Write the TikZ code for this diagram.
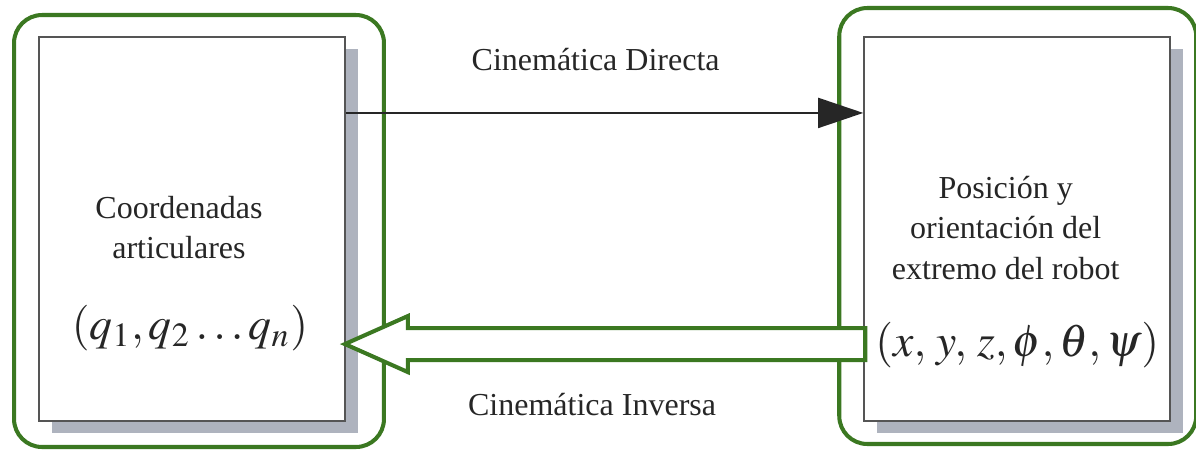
\documentclass[tikz,border=0pt]{standalone}
\usepackage{mathptmx}
\usepackage{fontspec}
\setmainfont{Liberation Serif}
\usetikzlibrary{positioning,calc,shadows,shapes.arrows,arrows.meta}

\definecolor{framegreen}{RGB}{59,120,33}
\definecolor{shadowgray}{RGB}{174,179,190}
\definecolor{boxgray}{RGB}{85,85,85}

\tikzset{
  block/.style={draw=boxgray,line width=0.5pt,fill=white,
    minimum width=3.06cm,minimum height=3.84cm,inner sep=0pt,
    drop shadow={shadow xshift=0.13cm,shadow yshift=-0.12cm,fill=shadowgray,opacity=1}},
  lbl/.style={align=center,font=\fontsize{9.1}{11.4}\selectfont,text=black!85},
  mathlbl/.style={font=\fontsize{13}{15}\selectfont,text=black!85},
  frame/.style={draw=framegreen,line width=1.15pt,rounded corners=0.28cm},
  thinarrow/.style={draw=black!85,line width=0.5pt,-{Triangle[length=0.45cm,width=0.3cm]}},
  fatarrow/.style={single arrow,draw=framegreen,line width=1.15pt,fill=white,
    shape border rotate=180,minimum height=5.2cm,inner sep=0.14cm,
    single arrow head extend=0.12cm,single arrow tip angle=48,anchor=tip}
}

\begin{document}
\begin{tikzpicture}[x=0.01cm,y=-0.01cm]
  \useasboundingbox (0,0) rectangle (1196,451);

  % joint space and task space
  \node[block] (joints) at (192,229) {};
  \node[block,right=5.17cm of joints] (pose) {};

  \node[lbl] (jtext) at ([xshift=-0.13cm,yshift=0.01cm]joints.center) {Coordenadas\\articulares};
  \node[mathlbl] (jmath) at ([xshift=-0.02cm,yshift=-0.99cm]joints.center) {$(q_1,q_2\ldots q_n)$};
  \node[lbl] (ptext) at ([xshift=-0.115cm,yshift=0.01cm]pose.center) {Posición y\\orientación del\\extremo del robot};
  \node[mathlbl] (pmath) at ([yshift=-1.16cm]pose.center) {$(x,\,y,\,z,\phi,\theta,\psi)$};

  % green frames
  \draw[frame] ($(joints.north west)+(-24,-21)$) rectangle ($(joints.south east)+(38,25)$);
  \draw[frame] ($(pose.north west)+(-24,-28)$) rectangle ($(pose.south east)+(25,22)$);

  % forward kinematics
  \draw[thinarrow] ([yshift=1.16cm]joints.east) -- ([yshift=1.16cm]pose.west)
    node[lbl,midway,above=0.30cm,xshift=-0.09cm] (direct) {Cinemática Directa};

  % inverse kinematics
  \node[fatarrow] (inv) at ([xshift=-0.06cm,yshift=-1.15cm]joints.east) {};
  \node[lbl,below=0.19cm of inv,xshift=-0.31cm] (inverse) {Cinemática Inversa};
\end{tikzpicture}
\end{document}
